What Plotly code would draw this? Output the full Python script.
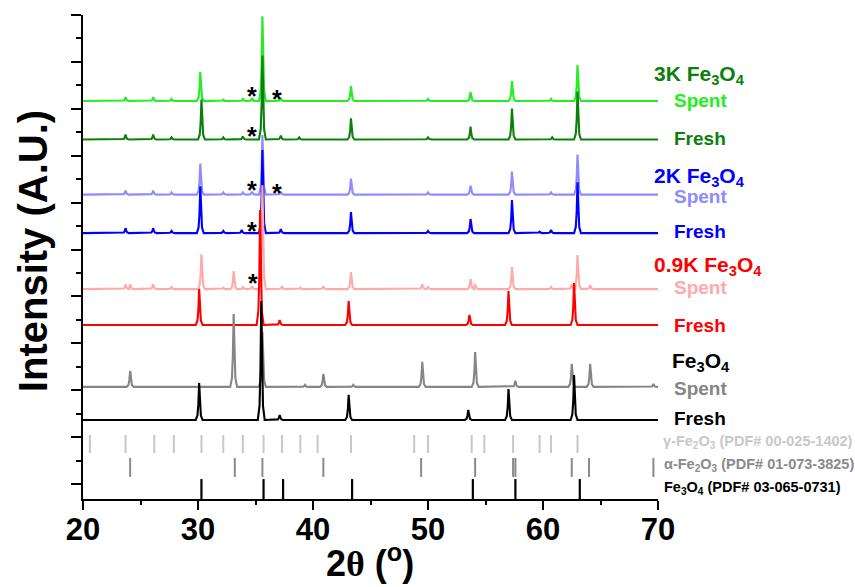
import plotly.graph_objects as go

# ---------------- data (2-theta in degrees, intensity in a.u.) ----------------
# each pattern: vertical offset (baseline) + peak positions + peak heights above baseline
spent3k_base = 1633
spent3k_pos = [23.7, 26.1, 27.7, 30.2, 32.2, 33.9, 34.7, 35.6, 37.2, 43.3, 50.0, 53.7, 57.3, 60.7, 63.0]
spent3k_hts = [17, 17, 9, 124, 6, 9, 13, 362, 13, 64, 9, 38, 85, 9, 154]

fresh3k_base = 1469
fresh3k_pos = [23.7, 26.1, 27.7, 30.3, 32.2, 33.9, 35.6, 37.2, 38.8, 43.3, 50.0, 53.7, 57.3, 60.8, 63.0]
fresh3k_hts = [21, 21, 9, 171, 9, 13, 358, 17, 9, 90, 9, 55, 132, 9, 205]

spent2k_base = 1234
spent2k_pos = [23.7, 26.1, 27.7, 30.2, 32.2, 33.9, 34.7, 35.6, 37.2, 43.3, 50.0, 53.7, 57.3, 60.7, 63.0]
spent2k_hts = [17, 17, 9, 132, 9, 9, 13, 254, 13, 68, 9, 38, 98, 9, 171]

fresh2k_base = 1070
fresh2k_pos = [23.7, 26.1, 27.7, 30.2, 32.2, 33.8, 35.6, 37.2, 43.3, 50.0, 53.7, 57.3, 59.7, 60.7, 63.0]
fresh2k_hts = [21, 21, 9, 200, 9, 13, 354, 17, 90, 9, 60, 141, 6, 13, 217]

spent09k_base = 831
spent09k_pos = [23.7, 24.1, 26.1, 27.7, 30.3, 32.2, 33.1, 33.9, 34.7, 35.6, 37.3, 38.9, 40.9,
                43.3, 49.5, 50.0, 53.7, 54.1, 57.3, 60.7, 62.5, 63.0, 64.1]
spent09k_hts = [21, 21, 21, 9, 149, 6, 77, 9, 13, 443, 13, 6, 13,
                72, 21, 9, 43, 21, 94, 9, 21, 145, 17]

fresh09k_base = 678
fresh09k_pos = [30.1, 35.4, 37.1, 43.1, 53.6, 57.0, 62.7]
fresh09k_hts = [154, 490, 21, 102, 43, 145, 179]

spentfe_base = 414
spentfe_pos = [24.1, 33.1, 35.6, 39.3, 40.9, 43.5, 49.5, 54.1, 57.6, 62.5, 64.1, 69.6]
spentfe_hts = [68, 311, 235, 9, 55, 9, 107, 149, 26, 98, 98, 13]

freshfe_base = 273
freshfe_pos = [30.1, 35.5, 37.1, 43.1, 53.5, 57.0, 62.7]
freshfe_hts = [158, 507, 21, 107, 43, 132, 192]

# reference patterns (stick positions, 2-theta)
gamma_pdf = [20.6, 23.7, 26.2, 27.9, 30.3, 32.2, 33.9, 35.7, 37.3, 38.9, 40.4, 43.3,
             48.8, 50.0, 53.8, 54.9, 57.4, 59.7, 60.7, 63.0]
alpha_pdf = [24.1, 33.2, 35.6, 40.9, 49.4, 54.1, 57.4, 57.6, 62.5, 64.0, 69.6]
magnetite_pdf = [30.3, 35.7, 37.4, 43.4, 53.9, 57.6, 63.2]

# stick rows (bottom, top) in intensity units
gamma_row = (132, 209)
alpha_row = (30, 111)
magnetite_row = (-64, 21)

x_ticks = [20, 30, 40, 50, 60, 70]

FONT = "Liberation Sans"

patterns = [
    (spent3k_pos, spent3k_hts, spent3k_base, "#22ee22"),
    (fresh3k_pos, fresh3k_hts, fresh3k_base, "#0a800a"),
    (spent2k_pos, spent2k_hts, spent2k_base, "#8c8cff"),
    (fresh2k_pos, fresh2k_hts, fresh2k_base, "#0000ff"),
    (spent09k_pos, spent09k_hts, spent09k_base, "#ffaaaa"),
    (fresh09k_pos, fresh09k_hts, fresh09k_base, "#ff0000"),
    (spentfe_pos, spentfe_hts, spentfe_base, "#858585"),
    (freshfe_pos, freshfe_hts, freshfe_base, "#000000"),
]

# peak glyph: offsets from peak centre (deg) and fraction of the peak height
SHAPE_DX = [-0.3, -0.15, -0.07, 0.0, 0.07, 0.15, 0.3]
SHAPE_FR = [0.0, 0.12, 0.42, 1.0, 0.42, 0.12, 0.0]


def outline(pos, hts, base):
    xs, ys = [20.0], [base]
    for p, h in sorted(zip(pos, hts)):
        for dx, fr in zip(SHAPE_DX, SHAPE_FR):
            x = p + dx
            if x <= xs[-1]:
                continue
            xs.append(x)
            ys.append(base + fr * h)
    xs.append(70.0)
    ys.append(base)
    return xs, ys


fig = go.Figure()
for pos, hts, base, col in patterns:
    xs, ys = outline(pos, hts, base)
    fig.add_trace(go.Scatter(x=xs, y=ys, mode="lines",
                             line=dict(color=col, width=2.1), hoverinfo="skip"))


def sticks(positions, row):
    xs, ys = [], []
    for p in positions:
        xs += [p, p, None]
        ys += [row[0], row[1], None]
    return xs, ys


for positions, row, col, wid in [(gamma_pdf, gamma_row, "#c8c8c8", 2),
                                 (alpha_pdf, alpha_row, "#8a8a8a", 2),
                                 (magnetite_pdf, magnetite_row, "#000000", 2.2)]:
    xs, ys = sticks(positions, row)
    fig.add_trace(go.Scatter(x=xs, y=ys, mode="lines",
                             line=dict(color=col, width=wid), hoverinfo="skip"))

# ---------------- labels (x in paper fraction, y in intensity units) ----------------
labels = [
    ("3K Fe<sub>3</sub>O<sub>4</sub>", 0.990, 1744, "#0a800a", 21),
    ("Spent", 1.024, 1637, "#22ee22", 19),
    ("Fresh", 1.024, 1475, "#0a800a", 19),
    ("2K Fe<sub>3</sub>O<sub>4</sub>", 0.990, 1309, "#0000ff", 21),
    ("Spent", 1.024, 1224, "#8c8cff", 19),
    ("Fresh", 1.024, 1075, "#0000ff", 19),
    ("0.9K Fe<sub>3</sub>O<sub>4</sub>", 0.990, 930, "#ff0000", 21),
    ("Spent", 1.024, 836, "#ffaaaa", 19),
    ("Fresh", 1.024, 674, "#ff0000", 19),
    ("Fe<sub>3</sub>O<sub>4</sub>", 1.021, 520, "#000000", 21),
    ("Spent", 1.024, 409, "#858585", 19),
    ("Fresh", 1.024, 281, "#000000", 19),
    ("γ-Fe<sub>2</sub>O<sub>3</sub> (PDF# 00-025-1402)", 1.005, 179, "#c8c8c8", 14.5),
    ("α-Fe<sub>2</sub>O<sub>3</sub> (PDF# 01-073-3825)", 1.007, 81, "#8a8a8a", 14.5),
    ("Fe<sub>3</sub>O<sub>4</sub> (PDF# 03-065-0731)", 1.007, -17, "#000000", 14.5),
]
for txt, x, y, col, sz in labels:
    fig.add_annotation(text=txt, x=x, y=y, xref="paper", yref="y", xanchor="left",
                       yanchor="middle", showarrow=False,
                       font=dict(family=FONT, size=sz, color=col, weight="bold"))

asterisks_x = [34.7, 36.9, 34.7, 34.7, 36.9, 34.7, 34.8]
asterisks_y = [1655, 1642, 1484, 1254, 1241, 1079, 857]
for x, y in zip(asterisks_x, asterisks_y):
    fig.add_annotation(text="*", x=x, y=y, xref="x", yref="y", showarrow=False,
                       xanchor="center", yanchor="middle",
                       font=dict(family=FONT, size=25, color="black", weight="bold"))

# axis titles
fig.add_annotation(text="Intensity (A.U.)", xref="paper", yref="paper",
                   x=-0.087, y=0.512, textangle=-90, showarrow=False,
                   xanchor="center", yanchor="middle",
                   font=dict(family=FONT, size=40, color="black", weight="bold"))
fig.add_annotation(text='2<span style="font-family:Liberation Serif">θ</span> (<sup>o</sup>)',
                   xref="paper", yref="paper", x=0.499, y=-0.128, showarrow=False,
                   xanchor="center", yanchor="middle",
                   font=dict(family=FONT, size=36, color="black", weight="bold"))

fig.update_layout(
    width=855, height=587,
    margin=dict(l=83, r=197, t=15, b=88),
    plot_bgcolor="white", paper_bgcolor="white",
    showlegend=False,
    xaxis=dict(range=[20, 70], tickvals=x_ticks, showgrid=False, zeroline=False,
               showline=True, linecolor="black", linewidth=2,
               ticks="outside", ticklen=9, tickwidth=2, tickcolor="black",
               ticklabelstandoff=-7,
               minor=dict(ticks="outside", ticklen=4, tickwidth=2, dtick=5,
                          tickcolor="black", tick0=20),
               tickfont=dict(family=FONT, size=31, color="black", weight="bold")),
    yaxis=dict(range=[-64, 2000], showgrid=False, zeroline=False,
               showline=True, linecolor="black", linewidth=2,
               ticks="outside", ticklen=10, tickwidth=2, tickcolor="black",
               tick0=0, dtick=200, showticklabels=False,
               minor=dict(ticks="outside", ticklen=5, tickwidth=2, dtick=100,
                          tickcolor="black", tick0=0)),
)

fig.write_html("out.html", config={"displayModeBar": False},
               post_script="document.body.style.margin='0px';")
